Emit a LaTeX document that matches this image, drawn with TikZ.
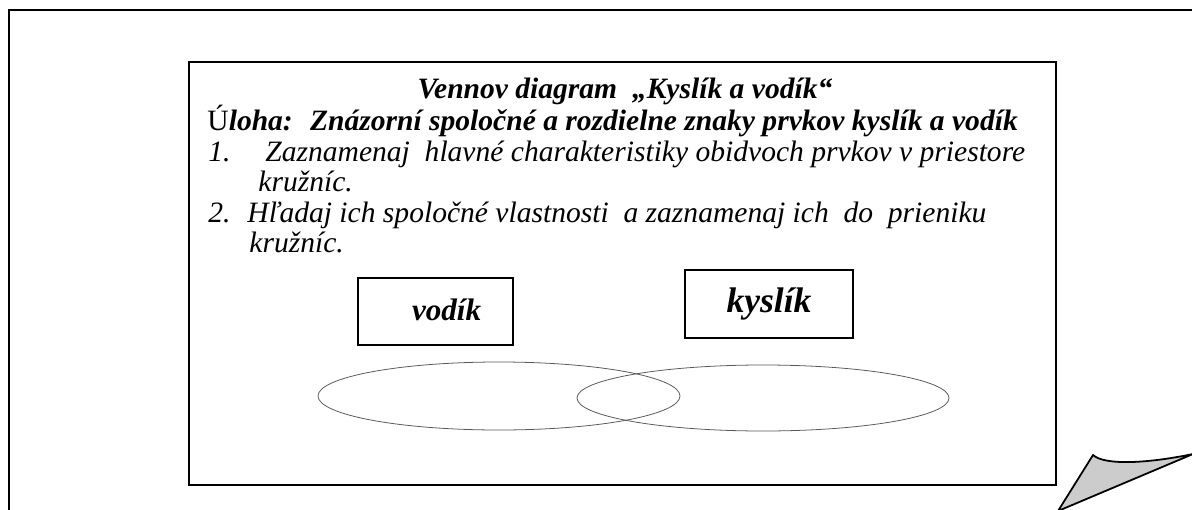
\documentclass[tikz,border=0pt]{standalone}
\usepackage{fontspec}
\setmainfont{Liberation Serif}
\begin{document}
\begin{tikzpicture}[x=0.45pt,y=-0.45pt,
  frame/.style={draw=black,line width=0.9pt},
  txt/.style={anchor=base west,inner sep=0pt,font=\fontsize{13.3}{15}\selectfont\itshape},
  labelbox/.style={draw=black,line width=0.8pt,minimum width=155*0.45pt,minimum height=67*0.45pt,inner sep=0pt},
  venn/.style={draw=black!65,line width=0.35pt},
  curl/.style={draw=black,line width=0.8pt,fill=gray!40,line join=round}]
\useasboundingbox (0,0) rectangle (1192,510);
\fill[white] (0,0) rectangle (1192,510);
% outer frame
\coordinate (oa) at (9,512);
\coordinate (ob) at (9,10);
\coordinate (oc) at (1194,10);
\draw[frame] (oa) -- (ob) -- (oc);
% inner box
\node[frame,minimum width=867*0.45pt,minimum height=423*0.45pt,inner sep=0pt] (box) at (622.5,273.5) {};
% texts
\node[anchor=base,inner sep=0pt,font=\fontsize{13.3}{15}\selectfont\bfseries\itshape] (title) at (625,99) {Vennov diagram \ „Kyslík a vodík“};
\node[txt] (uloha) at (207,131) {{\upshape Ú}\textbf{loha: \ Znázorní spoločné a rozdielne znaky prvkov kyslík a vodík}};
\node[txt] (n1) at (208,161) {1.};
\node[txt] (l1) at (265,161) {Zaznamenaj \ hlavné charakteristiky obidvoch prvkov v priestore};
\node[txt] (l1b) at (258,191) {kružníc.};
\node[txt] (n2) at (208,222) {2.};
\node[txt] (l2) at (247,222) {Hľadaj ich spoločné vlastnosti \ a zaznamenaj ich \ do \ prieniku};
\node[txt] (l2b) at (249,252) {kružníc.};
% label boxes
\node[labelbox] (vodik) at (435.5,311.5) {\hspace*{10pt}\raisebox{1.5pt}{\fontsize{14}{16}\selectfont\bfseries\itshape vodík}};
\node[labelbox,minimum width=168*0.45pt,minimum height=68*0.45pt] (kyslik) at (769,304) {\raisebox{2pt}{\fontsize{16}{18}\selectfont\bfseries\itshape kyslík}};
% Venn ellipses
\draw[venn] (499,396) ellipse [x radius=181, y radius=34];
\draw[venn] (763,398) ellipse [x radius=186, y radius=33];
% page curl
\coordinate (ca) at (1093,455);
\coordinate (cb) at (1193,454);
\coordinate (cc) at (1058,511);
\draw[curl] (ca) .. controls (1105,466) and (1150,463) .. (cb) -- (cc) -- cycle;
\end{tikzpicture}
\end{document}
